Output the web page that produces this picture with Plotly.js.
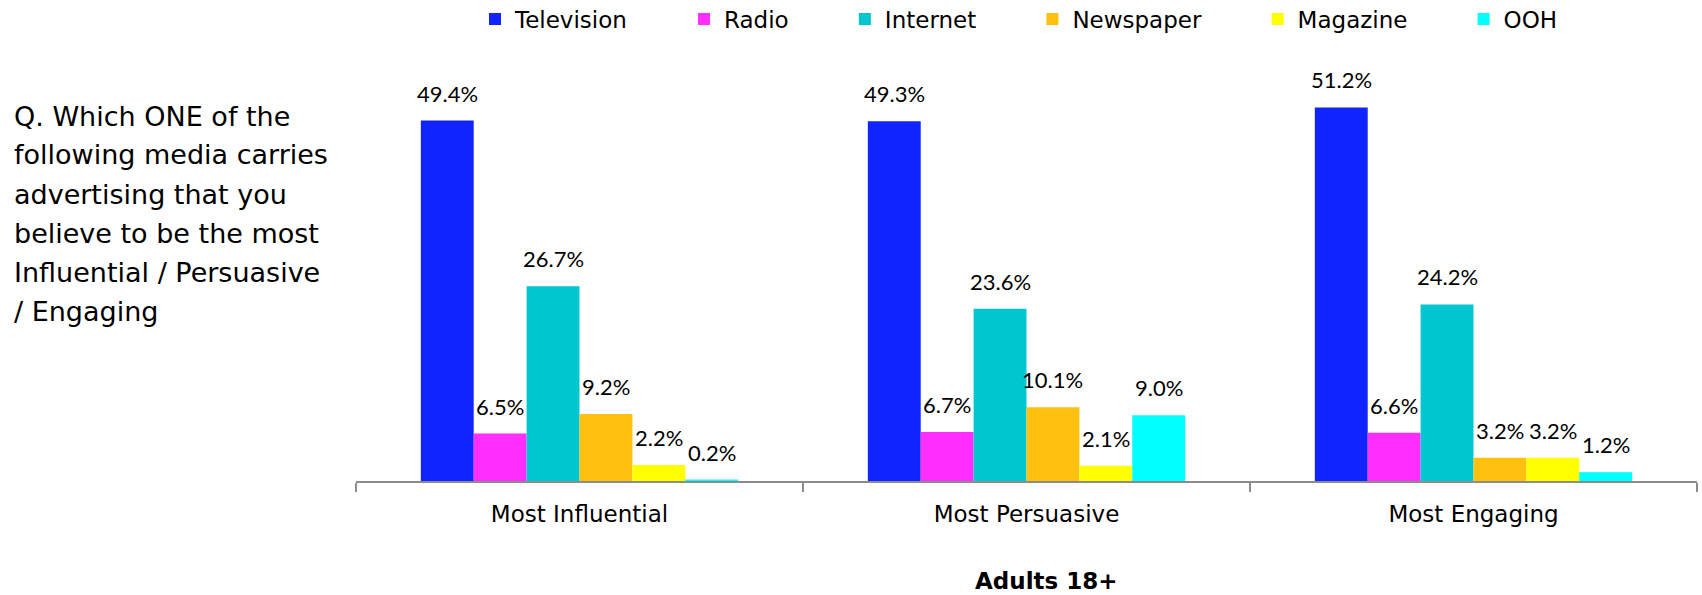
<!DOCTYPE html>
<html>
<head>
<meta charset="utf-8">
<script src="https://cdn.plot.ly/plotly-3.0.1.min.js"></script>
<style>html,body{margin:0;padding:0;background:#fff;}#chart{width:1702px;height:595px;}</style>
</head>
<body>
<div id="chart"></div>
<script>
var categories = ["Most Influential", "Most Persuasive", "Most Engaging"];
var seriesNames = ["Television", "Radio", "Internet", "Newspaper", "Magazine", "OOH"];
var television = [49.4, 49.3, 51.2];
var radio = [6.5, 6.7, 6.6];
var internet = [26.7, 23.6, 24.2];
var newspaper = [9.2, 10.1, 3.2];
var magazine = [2.2, 2.1, 3.2];
var ooh = [0.2, 9.0, 1.2];
var seriesValues = [television, radio, internet, newspaper, magazine, ooh];
var colors = ["#1024FF", "#FF2EFF", "#00C6D0", "#FFC010", "#FFFF00", "#00FFFF"];
var questionLines = ["Q. Which ONE of the", "following media carries", "advertising that you", "believe to be the most", "Influential / Persuasive", "/ Engaging"];
var xTitle = "Adults 18+";

var FONT = "'DejaVu Sans', sans-serif";
var LABEL_FONT = "Lato, 'Open Sans', sans-serif";
var bargap = 0.29;
var n = seriesNames.length;
var PAD = "\u00a0\u00a0\u00a0\u00a0\u00a0\u00a0\u00a0";

var traces = seriesNames.map(function (name, i) {
  return {
    type: "bar",
    name: name + PAD,
    x: categories,
    y: seriesValues[i],
    marker: {color: colors[i]},
    hoverinfo: "x+y"
  };
});

var annotations = [];
// data labels
seriesValues.forEach(function (vals, i) {
  var off = (i - (n - 1) / 2) * (1 - bargap) / n;
  vals.forEach(function (v, c) {
    annotations.push({
      x: c + off, y: v, xref: "x", yref: "y",
      text: v.toFixed(1) + "%", showarrow: false,
      yanchor: "bottom", xanchor: "center", yshift: 12,
      font: {family: LABEL_FONT, size: 22, color: "#000"}
    });
  });
});

var L = 356, R = 5, T = 50, B = 114, W = 1702, H = 595;
var pw = W - L - R, ph = H - T - B;
function px2x(px) { return (px - L) / pw; }
function py2y(py) { return (H - B - py) / ph; }

// question text
questionLines.forEach(function (line, k) {
  annotations.push({
    x: px2x(12), y: py2y(116 + k * 39), xref: "paper", yref: "paper",
    text: line, showarrow: false, xanchor: "left", yanchor: "middle", align: "left",
    font: {family: FONT, size: 27, color: "#000"}
  });
});
// x title
annotations.push({
  x: px2x(1046), y: py2y(581), xref: "paper", yref: "paper",
  text: "<b>" + xTitle + "</b>", showarrow: false, xanchor: "center", yanchor: "middle",
  font: {family: FONT, size: 23, color: "#000"}
});

var layout = {
  width: W, height: H,
  margin: {l: L, r: R, t: T, b: B, pad: 0},
  paper_bgcolor: "#fff", plot_bgcolor: "#fff",
  barmode: "group", bargap: bargap, bargroupgap: 0,
  showlegend: true,
  legend: {
    orientation: "h", xref: "container", yref: "container",
    x: 475 / W, y: 1 - 19 / H, xanchor: "left", yanchor: "middle",
    font: {family: FONT, size: 23, color: "#000"},
    itemclick: false, itemdoubleclick: false, tracegroupgap: 0
  },
  xaxis: {
    type: "category",
    showline: true, linecolor: "#8c8c8c", linewidth: 1.5,
    ticks: "outside", tickson: "boundaries", ticklen: 9, tickcolor: "#8c8c8c", tickwidth: 1.5,
    ticklabelstandoff: 12,
    tickfont: {family: FONT, size: 23, color: "#000"},
    showgrid: false, zeroline: false, fixedrange: true
  },
  yaxis: {
    range: [0, 59.08], visible: false, showgrid: false, zeroline: false, fixedrange: true
  },
  annotations: annotations
};

Plotly.newPlot("chart", traces, layout, {displayModeBar: false, staticPlot: true});
</script>
</body>
</html>
